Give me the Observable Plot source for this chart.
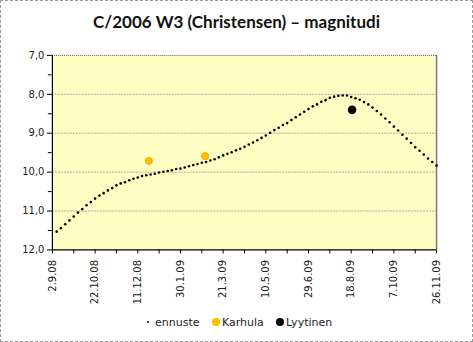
<!DOCTYPE html>
<html><head><meta charset="utf-8">
<script src="https://cdn.jsdelivr.net/npm/d3@7"></script>
<script src="https://cdn.jsdelivr.net/npm/@observablehq/plot@0.6"></script>
<style>
body{margin:0;background:#fff;}
#wrap{position:relative;width:473px;height:342px;box-sizing:border-box;border:1px dashed #9a9a9a;overflow:hidden;font-family:"DejaVu Sans",sans-serif;}
#title{position:absolute;top:10px;left:-1px;width:473px;text-align:center;font:bold 17px Lato,sans-serif;color:#111;}
#chart{position:absolute;left:-1px;top:-1px;}
.lg{position:absolute;top:315px;font-size:11px;color:#222;line-height:14px;white-space:nowrap;}
.dot{position:absolute;border-radius:50%;}
</style></head>
<body><div id="wrap"><div id="chart"></div><div id="title">C/2006 W3 (Christensen) – magnitudi</div>
<div id="legend"></div></div>
<script>
// --- data ---
const ennusteStart = "2008-09-07";   // first forecast point, then every 5 days
const ennusteStepDays = 5;
const ennusteMag = [11.53,11.44,11.34,11.24,11.14,11.04,10.95,10.85,10.77,10.68,
10.60,10.54,10.47,10.41,10.34,10.29,10.26,10.21,10.17,10.14,
10.10,10.08,10.06,10.04,10.01,9.99,9.97,9.95,9.92,9.91,
9.88,9.85,9.82,9.79,9.76,9.74,9.70,9.67,9.62,9.57,
9.53,9.49,9.44,9.40,9.35,9.29,9.24,9.18,9.12,9.06,
8.99,8.92,8.86,8.79,8.74,8.66,8.59,8.52,8.45,8.38,
8.31,8.26,8.19,8.15,8.09,8.06,8.04,8.03,8.03,8.07,
8.10,8.14,8.20,8.26,8.34,8.43,8.52,8.62,8.72,8.83,
8.93,9.04,9.14,9.25,9.36,9.45,9.55,9.65,9.74,9.83];
const karhulaDates = ["2008-12-24","2009-02-28"];
const karhulaMag = [9.71,9.59];
const lyytinenDates = ["2009-08-19"];
const lyytinenMag = [8.40];
const xTickDates = ["2008-09-02","2008-10-22","2008-12-11","2009-01-30","2009-03-21","2009-05-10","2009-06-29","2009-08-18","2009-10-07","2009-11-26"];
const yTicks = [7,8,9,10,11,12];
const seriesNames = ["ennuste","Karhula","Lyytinen"];

// --- build ---
const parse = d3.utcParse("%Y-%m-%d");
const start = parse(ennusteStart);
const ennuste = ennusteMag.map((m,i)=>({date:d3.utcDay.offset(start, i*ennusteStepDays), mag:m}));
const karhula = karhulaMag.map((m,i)=>({date:parse(karhulaDates[i]), mag:m}));
const lyytinen = lyytinenMag.map((m,i)=>({date:parse(lyytinenDates[i]), mag:m}));
const xMajor = xTickDates.map(parse);
const xMinor = xMajor.slice(0,-1).map((d,i)=>new Date((+d + +xMajor[i+1])/2));
const yMinor = yTicks.slice(0,-1).map(v=>v+0.5);
const x0 = xMajor[0], x1 = xMajor[xMajor.length-1];
const fmtY = d => d.toFixed(1).replace(".", ",");

const chart = Plot.plot({
  width:473, height:342, marginLeft:52, marginRight:36, marginTop:55, marginBottom:92,
  style:{fontFamily:"DejaVu Sans, sans-serif", fontSize:"10px", color:"#222", background:"transparent", overflow:"visible"},
  x:{type:"utc", domain:[x0,x1]},
  y:{domain:[7,12], reverse:true},
  marks:[
    Plot.frame({fill:"#ffffc4", stroke:null}),
    Plot.gridY([8,9,10,11], {stroke:"#aaaaa0", strokeOpacity:1, strokeDasharray:"2,1"}),
    Plot.ruleY([7], {stroke:"#555", strokeDasharray:"1,1"}),
    Plot.ruleX([x1], {stroke:"#7a7a7a", strokeWidth:1.5}),
    Plot.axisY(yTicks, {tickSize:5, tickPadding:3, tickFormat:fmtY, label:null, stroke:"#000"}),
    Plot.axisY(yMinor, {tickSize:4, tickFormat:()=>"", label:null, stroke:"#000"}),
    Plot.axisX(xMajor, {tickSize:4, tickPadding:6, tickRotate:-90, tickFormat:d3.utcFormat("%-d.%-m.%y"), label:null, stroke:"#000"}),
    Plot.axisX(xMinor, {tickSize:4, tickFormat:()=>"", label:null, stroke:"#000"}),
    Plot.ruleX([x0], {stroke:"#000", strokeWidth:1.2}),
    Plot.ruleY([12], {stroke:"#000", strokeWidth:1.2}),
    Plot.dot(ennuste, {x:"date", y:"mag", r:1.3, fill:"#000", stroke:null}),
    Plot.dot(karhula, {x:"date", y:"mag", r:3.6, fill:"#ffc000", stroke:"#f0a000", strokeWidth:0.8}),
    Plot.dot(lyytinen, {x:"date", y:"mag", r:4.3, fill:"#000", stroke:null})
  ]
});
document.getElementById("chart").appendChild(chart);

// legend
const lg = document.getElementById("legend");
const items = [
  {name:seriesNames[0], cx:148, r:1.3, color:"#000", tx:155},
  {name:seriesNames[1], cx:216, r:3.6, color:"#ffc000", tx:222},
  {name:seriesNames[2], cx:280, r:4.3, color:"#000", tx:286}
];
for (const it of items) {
  const d = document.createElement("div");
  d.className = "dot";
  d.style.left = (it.cx - it.r - 1) + "px";
  d.style.top = (322 - it.r - 1) + "px";
  d.style.width = d.style.height = (2*it.r) + "px";
  d.style.background = it.color;
  lg.appendChild(d);
  const t = document.createElement("div");
  t.className = "lg";
  t.style.left = (it.tx - 1) + "px";
  t.textContent = it.name;
  lg.appendChild(t);
}
</script></body></html>
